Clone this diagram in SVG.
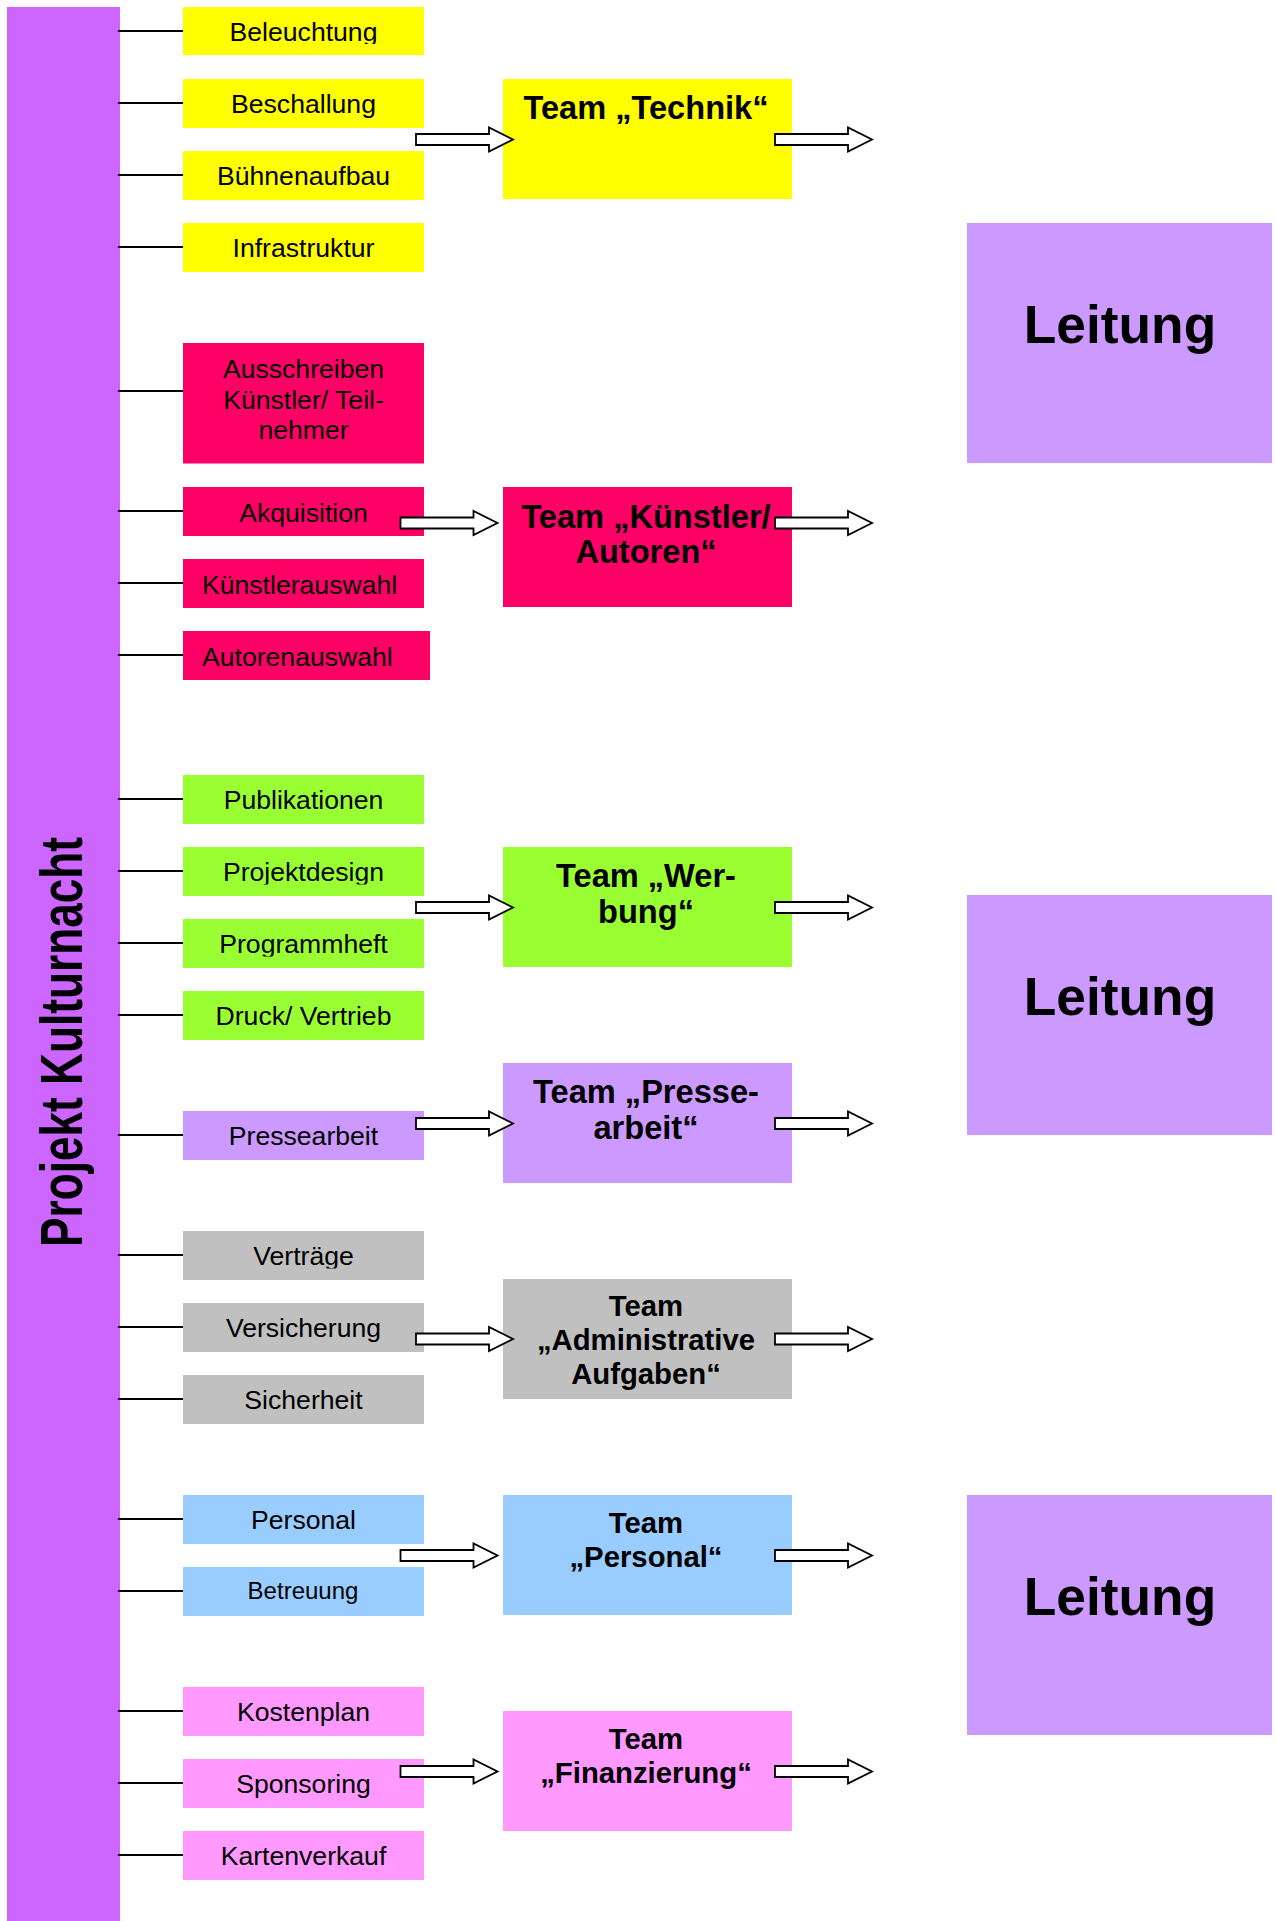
<svg xmlns="http://www.w3.org/2000/svg" xmlns:xlink="http://www.w3.org/1999/xlink" width="1276" height="1921" viewBox="0 0 1276 1921">
  <style>
    text { font-family: "Liberation Sans", Arial, sans-serif; fill: #000; text-anchor: middle; }
    .item { font-size: 26.6px; }
    .small { font-size: 24px; }
    .team { font-size: 32.6px; font-weight: bold; }
    .team2 { font-size: 29.3px; font-weight: bold; }
    .lead { font-size: 53.3px; font-weight: bold; }
    .title { font-size: 60px; font-weight: bold; text-anchor: start; }
    .tick { stroke: #000; stroke-width: 2; }
    .yellow { fill: #FFFF00; }
    .red { fill: #FF0066; }
    .green { fill: #99FF33; }
    .lilac { fill: #CC99FF; }
    .grey { fill: #C0C0C0; }
    .blue { fill: #99CCFF; }
    .rose { fill: #FF99FF; }
  </style>
  <defs>
    <!-- block arrow, origin at the tail centre -->
    <path id="blockArrow" d="M0,-5.5 H73 V-12 L97,0 L73,12 V5.5 H0 Z" fill="#FFFFFF" stroke="#000000" stroke-width="1.8" stroke-linejoin="miter"/>
    <!-- text frames that cut off descenders -->
    <clipPath id="clipBel"><rect x="183" y="7" width="241" height="37"/></clipPath>
    <clipPath id="clipPd"><rect x="183" y="847" width="241" height="37.5"/></clipPath>
    <clipPath id="clipPh"><rect x="183" y="919" width="241" height="37.5"/></clipPath>
    <clipPath id="clipVt"><rect x="183" y="1231" width="241" height="37.5"/></clipPath>
  </defs>

  <rect width="1276" height="1921" fill="#FFFFFF"/>

  <!-- main project bar -->
  <g id="projekt">
    <rect x="7" y="7" width="113" height="1914" fill="#CC66FF"/>
    <text class="title" transform="translate(82,1247) rotate(-90)" textLength="410" lengthAdjust="spacingAndGlyphs">Projekt Kulturnacht</text>
  </g>

  <!-- Technik -->
  <g id="beleuchtung"><rect class="yellow" x="183" y="7" width="241" height="48"/><text class="item" x="303.5" y="41" clip-path="url(#clipBel)">Beleuchtung</text></g>
  <g id="beschallung"><rect class="yellow" x="183" y="79" width="241" height="49"/><text class="item" x="303.5" y="113">Beschallung</text></g>
  <g id="buehnenaufbau"><rect class="yellow" x="183" y="151" width="241" height="49"/><text class="item" x="303.5" y="185">Bühnenaufbau</text></g>
  <g id="infrastruktur"><rect class="yellow" x="183" y="223" width="241" height="49"/><text class="item" x="303.5" y="257">Infrastruktur</text></g>
  <g id="team-technik"><rect class="yellow" x="503" y="79" width="289" height="120"/><text class="team" x="646" y="119">Team „Technik“</text></g>

  <!-- Künstler / Autoren -->
  <g id="ausschreiben"><rect class="red" x="183" y="343" width="241" height="120.5"/>
    <text class="item" x="303.5" y="378">Ausschreiben</text>
    <text class="item" x="303.5" y="408.5">Künstler/ Teil-</text>
    <text class="item" x="303.5" y="439">nehmer</text>
  </g>
  <g id="akquisition"><rect class="red" x="183" y="487" width="241" height="49"/><text class="item" x="303.5" y="522">Akquisition</text></g>
  <g id="kuenstlerauswahl"><rect class="red" x="183" y="559" width="241" height="49"/><text class="item" x="202" y="594" style="text-anchor:start">Künstlerauswahl</text></g>
  <g id="autorenauswahl"><rect class="red" x="183" y="631" width="247" height="49"/><text class="item" x="202" y="666" style="text-anchor:start">Autorenauswahl</text></g>
  <g id="team-kuenstler"><rect class="red" x="503" y="487" width="289" height="120"/>
    <text class="team" x="646" y="528">Team „Künstler/</text>
    <text class="team" x="646" y="563">Autoren“</text>
  </g>

  <!-- Werbung -->
  <g id="publikationen"><rect class="green" x="183" y="775" width="241" height="49"/><text class="item" x="303.5" y="809">Publikationen</text></g>
  <g id="projektdesign"><rect class="green" x="183" y="847" width="241" height="49"/><text class="item" x="303.5" y="881" clip-path="url(#clipPd)">Projektdesign</text></g>
  <g id="programmheft"><rect class="green" x="183" y="919" width="241" height="49"/><text class="item" x="303.5" y="953" clip-path="url(#clipPh)">Programmheft</text></g>
  <g id="druck-vertrieb"><rect class="green" x="183" y="991" width="241" height="49"/><text class="item" x="303.5" y="1025">Druck/ Vertrieb</text></g>
  <g id="team-werbung"><rect class="green" x="503" y="847" width="289" height="120"/>
    <text class="team" x="646" y="887">Team „Wer-</text>
    <text class="team" x="646" y="923">bung“</text>
  </g>

  <!-- Pressearbeit -->
  <g id="pressearbeit"><rect class="lilac" x="183" y="1111" width="241" height="49"/><text class="item" x="303.5" y="1145">Pressearbeit</text></g>
  <g id="team-presse"><rect class="lilac" x="503" y="1063" width="289" height="120"/>
    <text class="team" x="646" y="1103">Team „Presse-</text>
    <text class="team" x="646" y="1139">arbeit“</text>
  </g>

  <!-- Administration -->
  <g id="vertraege"><rect class="grey" x="183" y="1231" width="241" height="49"/><text class="item" x="303.5" y="1265" clip-path="url(#clipVt)">Verträge</text></g>
  <g id="versicherung"><rect class="grey" x="183" y="1303" width="241" height="49"/><text class="item" x="303.5" y="1337">Versicherung</text></g>
  <g id="sicherheit"><rect class="grey" x="183" y="1375" width="241" height="49"/><text class="item" x="303.5" y="1409">Sicherheit</text></g>
  <g id="team-administrative"><rect class="grey" x="503" y="1279" width="289" height="120"/>
    <text class="team2" x="646" y="1316">Team</text>
    <text class="team2" x="646" y="1350">„Administrative</text>
    <text class="team2" x="646" y="1384">Aufgaben“</text>
  </g>

  <!-- Personal -->
  <g id="personal"><rect class="blue" x="183" y="1495" width="241" height="49"/><text class="item" x="303.5" y="1529">Personal</text></g>
  <g id="betreuung"><rect class="blue" x="183" y="1567" width="241" height="49"/><text class="small" x="303" y="1598.5">Betreuung</text></g>
  <g id="team-personal"><rect class="blue" x="503" y="1495" width="289" height="120"/>
    <text class="team2" x="646" y="1533">Team</text>
    <text class="team2" x="646" y="1567">„Personal“</text>
  </g>

  <!-- Finanzierung -->
  <g id="kostenplan"><rect class="rose" x="183" y="1687" width="241" height="49"/><text class="item" x="303.5" y="1721">Kostenplan</text></g>
  <g id="sponsoring"><rect class="rose" x="183" y="1759" width="241" height="49"/><text class="item" x="303.5" y="1793">Sponsoring</text></g>
  <g id="kartenverkauf"><rect class="rose" x="183" y="1831" width="241" height="49"/><text class="item" x="303.5" y="1865">Kartenverkauf</text></g>
  <g id="team-finanzierung"><rect class="rose" x="503" y="1711" width="289" height="120"/>
    <text class="team2" x="646" y="1749">Team</text>
    <text class="team2" x="646" y="1783">„Finanzierung“</text>
  </g>

  <!-- Leitung -->
  <g id="leitung-1"><rect class="lilac" x="967" y="223" width="305" height="240"/><text class="lead" x="1120" y="343">Leitung</text></g>
  <g id="leitung-2"><rect class="lilac" x="967" y="895" width="305" height="240"/><text class="lead" x="1120" y="1015">Leitung</text></g>
  <g id="leitung-3"><rect class="lilac" x="967" y="1495" width="305" height="240"/><text class="lead" x="1120" y="1615">Leitung</text></g>

  <!-- connectors -->
  <g id="connectors">
    <g class="tick">
      <line x1="118" y1="31" x2="183" y2="31"/>
      <line x1="118" y1="103" x2="183" y2="103"/>
      <line x1="118" y1="175" x2="183" y2="175"/>
      <line x1="118" y1="247" x2="183" y2="247"/>
      <line x1="118" y1="391" x2="183" y2="391"/>
      <line x1="118" y1="511" x2="183" y2="511"/>
      <line x1="118" y1="583" x2="183" y2="583"/>
      <line x1="118" y1="655" x2="183" y2="655"/>
      <line x1="118" y1="799" x2="183" y2="799"/>
      <line x1="118" y1="871" x2="183" y2="871"/>
      <line x1="118" y1="943" x2="183" y2="943"/>
      <line x1="118" y1="1015" x2="183" y2="1015"/>
      <line x1="118" y1="1135" x2="183" y2="1135"/>
      <line x1="118" y1="1255" x2="183" y2="1255"/>
      <line x1="118" y1="1327" x2="183" y2="1327"/>
      <line x1="118" y1="1399" x2="183" y2="1399"/>
      <line x1="118" y1="1519" x2="183" y2="1519"/>
      <line x1="118" y1="1591" x2="183" y2="1591"/>
      <line x1="118" y1="1711" x2="183" y2="1711"/>
      <line x1="118" y1="1783" x2="183" y2="1783"/>
      <line x1="118" y1="1855" x2="183" y2="1855"/>
    </g>
    <!-- into the teams -->
    <use xlink:href="#blockArrow" href="#blockArrow" transform="translate(416,139.5)"/>
    <use xlink:href="#blockArrow" href="#blockArrow" transform="translate(400.5,523)"/>
    <use xlink:href="#blockArrow" href="#blockArrow" transform="translate(416,907.5)"/>
    <use xlink:href="#blockArrow" href="#blockArrow" transform="translate(416,1123.5)"/>
    <use xlink:href="#blockArrow" href="#blockArrow" transform="translate(416,1339)"/>
    <use xlink:href="#blockArrow" href="#blockArrow" transform="translate(400.5,1555.5)"/>
    <use xlink:href="#blockArrow" href="#blockArrow" transform="translate(400.5,1771.5)"/>
    <!-- out of the teams -->
    <use xlink:href="#blockArrow" href="#blockArrow" transform="translate(775,139.5)"/>
    <use xlink:href="#blockArrow" href="#blockArrow" transform="translate(775,523)"/>
    <use xlink:href="#blockArrow" href="#blockArrow" transform="translate(775,907.5)"/>
    <use xlink:href="#blockArrow" href="#blockArrow" transform="translate(775,1123.5)"/>
    <use xlink:href="#blockArrow" href="#blockArrow" transform="translate(775,1339)"/>
    <use xlink:href="#blockArrow" href="#blockArrow" transform="translate(775,1555.5)"/>
    <use xlink:href="#blockArrow" href="#blockArrow" transform="translate(775,1771.5)"/>
  </g>
</svg>
